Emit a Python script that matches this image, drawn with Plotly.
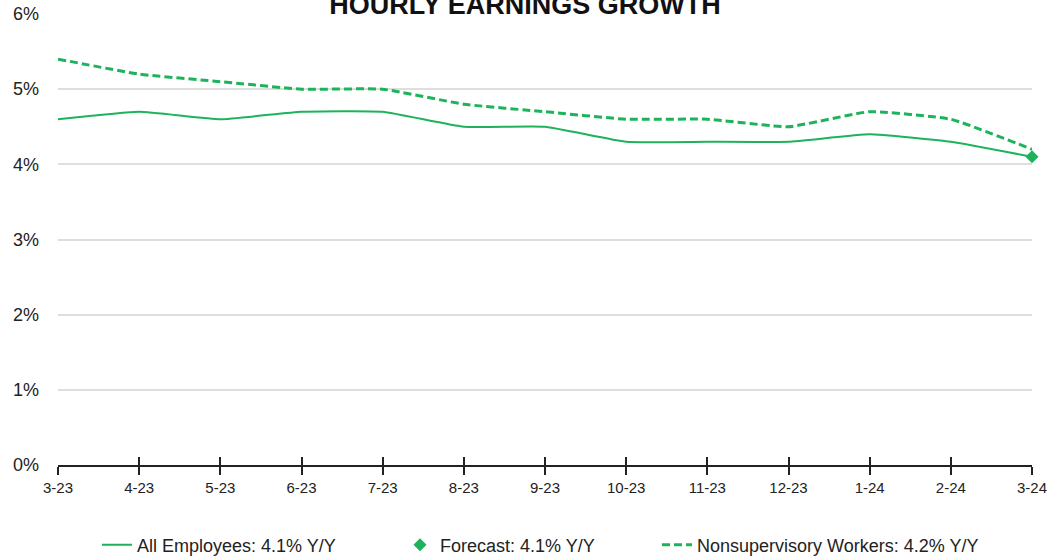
import plotly.graph_objects as go

months = ["3-23", "4-23", "5-23", "6-23", "7-23", "8-23", "9-23",
          "10-23", "11-23", "12-23", "1-24", "2-24", "3-24"]
all_employees = [4.6, 4.7, 4.6, 4.7, 4.7, 4.5, 4.5, 4.3, 4.3, 4.3, 4.4, 4.3, 4.1]
nonsupervisory = [5.4, 5.2, 5.1, 5.0, 5.0, 4.8, 4.7, 4.6, 4.6, 4.5, 4.7, 4.6, 4.2]
forecast_month = ["3-24"]
forecast_value = [4.1]
y_ticks = [0, 1, 2, 3, 4, 5, 6]
y_labels = [f"{v}%" for v in y_ticks]

GREEN = "#1db35a"
FONT = "Liberation Sans, Arial, sans-serif"

W, H = 1050, 559
L, R, T, B = 58, 18, 14, 94
PW = W - L - R
PH = H - T - B

x_idx = list(range(len(months)))
f_idx = [months.index(m) for m in forecast_month]


def lx(px):
    return (px - L) / PW


def ly(py):
    return (H - B - py) / PH


fig = go.Figure()
fig.add_trace(go.Scatter(
    x=x_idx, y=all_employees, mode="lines", name="All Employees: 4.1% Y/Y",
    line=dict(color=GREEN, width=2, shape="spline", smoothing=0.4),
    cliponaxis=False, legend="legend"))
fig.add_trace(go.Scatter(
    x=f_idx, y=forecast_value, mode="markers", name="Forecast: 4.1% Y/Y",
    marker=dict(symbol="diamond", color=GREEN, size=10),
    cliponaxis=False, legend="legend2"))
fig.add_trace(go.Scatter(
    x=x_idx, y=nonsupervisory, mode="lines", name="Nonsupervisory Workers: 4.2% Y/Y",
    line=dict(color=GREEN, width=3, dash="8px,4px", shape="spline", smoothing=0.4),
    cliponaxis=False, legend="legend3"))
fig.add_trace(go.Scatter(x=x_idx, y=[None]*len(x_idx), xaxis="x2",
                         showlegend=False, hoverinfo="skip"))

leg_font = dict(family=FONT, size=18, color="#222")
leg_y = ly(545)

fig.update_layout(
    width=W, height=H,
    margin=dict(l=L, r=R, t=T, b=B, autoexpand=False),
    paper_bgcolor="white", plot_bgcolor="white",
    font=dict(family=FONT, size=18, color="#222"),
    title=dict(text="<b>HOURLY EARNINGS GROWTH</b>", x=0.5, xanchor="center",
               y=0.991, yanchor="middle", yref="container", automargin=False,
               font=dict(family=FONT, size=27, color="#111")),
    xaxis=dict(range=[0, 12], tickvals=x_idx, ticktext=months,
               showgrid=False, zeroline=False, showline=True, automargin=False,
               linecolor="#222", linewidth=2, ticks="outside",
               ticklen=8, tickwidth=1.5, tickcolor="#222",
               tickfont=dict(family=FONT, size=15, color="#222")),
    xaxis2=dict(range=[0, 12], tickvals=x_idx, overlaying="x",
                anchor="y", side="bottom", showticklabels=False, automargin=False,
                showgrid=False, zeroline=False, showline=False,
                ticks="inside", ticklen=8, tickwidth=1.5, tickcolor="#222"),
    yaxis=dict(range=[0, 6], tickvals=y_ticks, ticktext=y_labels,
               showgrid=True, gridcolor="#dedede", gridwidth=1.5,
               zeroline=False, showline=False, ticklabelstandoff=18,
               automargin=False,
               tickfont=dict(family=FONT, size=18, color="#222")),
    legend=dict(x=lx(97), xanchor="left", y=leg_y, yanchor="middle",
                font=leg_font, bgcolor="rgba(0,0,0,0)"),
    legend2=dict(x=lx(400), xanchor="left", y=leg_y, yanchor="middle",
                 font=leg_font, bgcolor="rgba(0,0,0,0)"),
    legend3=dict(x=lx(657), xanchor="left", y=leg_y, yanchor="middle",
                 font=leg_font, bgcolor="rgba(0,0,0,0)"),
    showlegend=True,
)

fig.write_html("out.html", config={"displayModeBar": False},
               post_script="document.body.style.margin='0';")
